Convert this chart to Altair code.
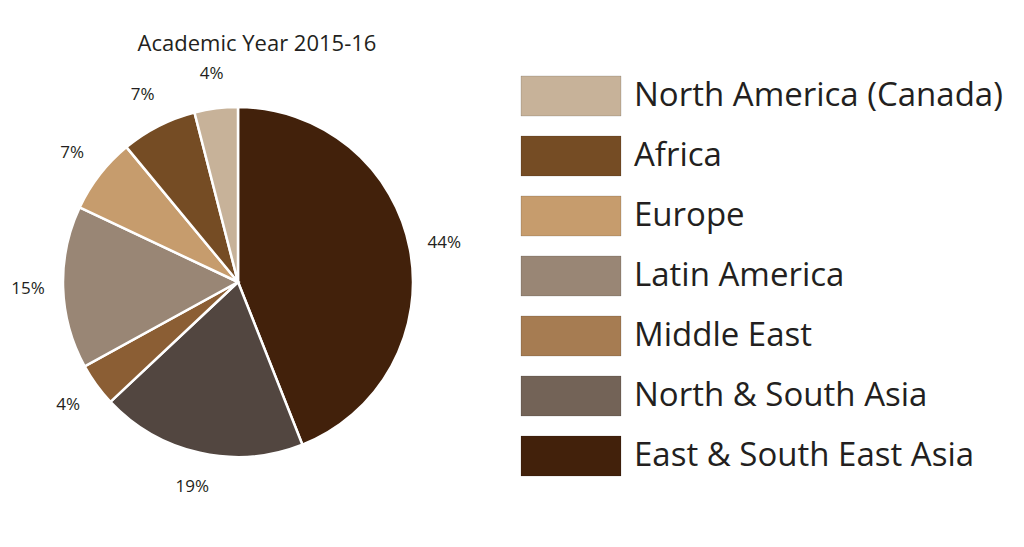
import altair as alt
import pandas as pd

# ---- data ----
pie_regions = ["East & South East Asia", "North & South Asia", "Middle East",
               "Latin America", "Europe", "Africa", "North America (Canada)"]
pie_shares = [44, 19, 4, 15, 7, 7, 4]
pie_colors = ["#42210b", "#524640", "#8b5e34", "#998675", "#c69c6d", "#754c24", "#c7b299"]

legend_regions = ["North America (Canada)", "Africa", "Europe", "Latin America",
                  "Middle East", "North & South Asia", "East & South East Asia"]
legend_colors = ["#c7b299", "#754c24", "#c69c6d", "#998675", "#a67c52", "#736357", "#42210b"]

title_text = ["Academic Year 2015-16"]

# ---- layout constants ----
FONT = "Open Sans"
M = 8                  # page margin
CX, CY = 238 - M, 282 - M
R = 175

pie_df = pd.DataFrame({
    "region": pie_regions,
    "share": pie_shares,
    "color": pie_colors,
    "order": list(range(len(pie_regions))),
    "label": [f"{v}%" for v in pie_shares],
})
leg_df = pd.DataFrame({
    "region": legend_regions,
    "color": legend_colors,
})
title_df = pd.DataFrame({"t": title_text})

base = alt.Chart(pie_df)

arcs = base.mark_arc(outerRadius=R, stroke="white", strokeWidth=2.5).encode(
    theta=alt.Theta("share:Q", stack=True),
    order=alt.Order("order:Q"),
    color=alt.Color("color:N", scale=None),
    x=alt.value(CX),
    y=alt.value(CY),
)

labels = base.mark_text(font=FONT, fontSize=17, color="#231f20").encode(
    theta=alt.Theta("share:Q", stack=True),
    order=alt.Order("order:Q"),
    text="label:N",
    radius=alt.value(210),
    x=alt.value(CX),
    y=alt.value(CY),
)

title = alt.Chart(title_df).mark_text(font=FONT, fontSize=22, color="#231f20",
                                      align="center", baseline="alphabetic").encode(
    text="t:N",
    x=alt.value(257 - M),
    y=alt.value(51 - M),
)

yscale = alt.Scale(domain=legend_regions, range=[66 - M, 486 - M],
                   paddingInner=1 / 3, paddingOuter=1 / 6)

leg_rect = alt.Chart(leg_df).mark_rect(stroke="#00000022", strokeWidth=1).encode(
    y=alt.Y("region:N", scale=yscale, axis=None),
    x=alt.value(521 - M),
    x2=alt.value(621 - M),
    color=alt.Color("color:N", scale=None),
)

leg_text = alt.Chart(leg_df).mark_text(font=FONT, fontSize=33, align="left",
                                       baseline="middle", color="#231f20").encode(
    y=alt.Y("region:N", scale=yscale, axis=None),
    x=alt.value(634 - M),
    text="region:N",
)

chart = alt.layer(title, arcs, labels, leg_rect, leg_text).properties(
    width=1024 - 2 * M,
    height=547 - 2 * M,
    padding=0,
).configure_view(stroke=None)

chart.save("out.html", embed_options={"renderer": "svg", "actions": False})
